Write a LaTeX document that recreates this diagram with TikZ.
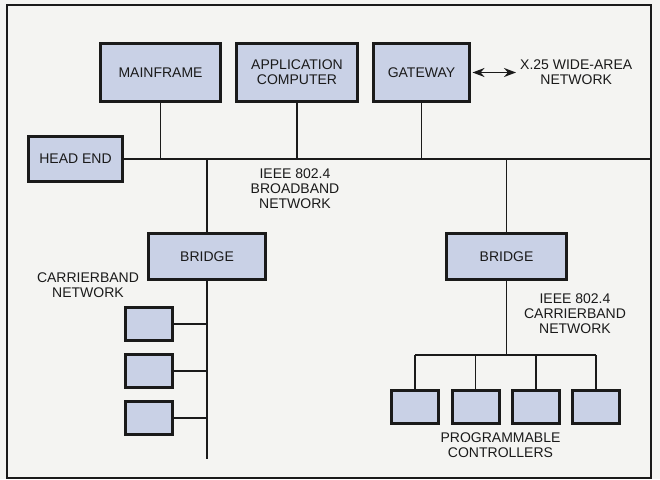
\documentclass[tikz,border=0pt]{standalone}
\usepackage{fontspec}
\setmainfont{Liberation Sans}
\usepackage{xcolor}
\usepackage{tikz}
\usetikzlibrary{arrows.meta, positioning}
\definecolor{boxfill}{HTML}{C9D1E6}
\definecolor{paper}{HTML}{F4F4F2}
\definecolor{ink}{HTML}{1A1A1A}
\tikzset{
  unit/.style={
    rectangle, draw=ink, fill=boxfill, line width=3pt,
    font=\fontsize{14}{15}\selectfont, text=ink,
    inner sep=2pt, align=center
  },
  smallunit/.style={unit, minimum width=47pt, minimum height=33pt},
  netlabel/.style={
    font=\fontsize{14}{15}\selectfont, text=ink,
    inner sep=0pt, align=center
  },
  wire/.style={line width=1.7pt, draw=ink},
  arrow/.style={{Stealth[length=12pt,width=9pt]}-{Stealth[length=12pt,width=9pt]}, line width=1.7pt, draw=ink},
}

\begin{document}
\begin{tikzpicture}[x=1pt, y=-1pt]
    \fill[paper] (0,0) rectangle (660,479);
    \draw[line width=1.4pt, draw=ink] (7,5) rectangle (651,478);

    \node[unit, minimum width=120pt, minimum height=58pt] (mf) at (160.5,72.5) {MAINFRAME};
    \node[unit, minimum width=121pt, minimum height=58pt, right=13pt of mf] (app) {APPLICATION\\COMPUTER};
    \node[unit, minimum width=96pt, minimum height=58pt, right=13pt of app] (gw) {GATEWAY};
    \node[unit, minimum width=94pt, minimum height=45pt] (he) at (75.5,159) {HEAD END};
    \node[unit, minimum width=117pt, minimum height=46pt] (brl) at (207,256.5) {BRIDGE};
    \node[unit, minimum width=120pt, minimum height=46pt] (brr) at (506.5,256.5) {BRIDGE};

    \coordinate (bbend) at (651,159);
    \coordinate (wan) at (516,72.5);
    \coordinate (cbend) at (207,459);
    \coordinate (bus) at (506.5,355);

    \node[netlabel, right=4pt of wan] (x25) {X.25 WIDE-AREA\\NETWORK};
    \node[netlabel] (bbnet) at (295,189) {IEEE 802.4\\BROADBAND\\NETWORK};
    \node[netlabel] (cbnet) at (88,285) {CARRIERBAND\\NETWORK};
    \node[netlabel] (cbnet2) at (575,314) {IEEE 802.4\\CARRIERBAND\\NETWORK};

    \foreach \i/\y in {1/324,2/371,3/418}
      \node[smallunit] (cb\i) at (149,\y) {};
    \foreach \i/\x in {1/415,2/475.5,3/536,4/596}
      \node[smallunit] (pc\i) at (\x,406.5) {};
    \node[netlabel, below=8pt of pc2.south east] (plc) {PROGRAMMABLE\\CONTROLLERS};

    \draw[wire] (he.east) -- (bbend);
    \draw[wire] (mf.south) -- (mf.south |- he.east);
    \draw[wire] (app.south) -- (app.south |- he.east);
    \draw[wire] (gw.south) -- (gw.south |- he.east);
    \draw[wire] (brl.north |- he.east) -- (brl.north);
    \draw[wire] (brr.north |- he.east) -- (brr.north);
    \draw[arrow, shorten <=1.5pt] (gw.east) -- (wan);

    \draw[wire] (brl.south) -- (cbend);
    \foreach \i in {1,2,3}
      \draw[wire] (cb\i.east) -- (cb\i.east -| cbend);

    \draw[wire] (brr.south) -- (bus);
    \draw[wire] (pc1.north |- bus) -- (pc4.north |- bus);
    \foreach \i in {1,...,4}
      \draw[wire] (pc\i.north |- bus) -- (pc\i.north);
  \end{tikzpicture}
\end{document}
